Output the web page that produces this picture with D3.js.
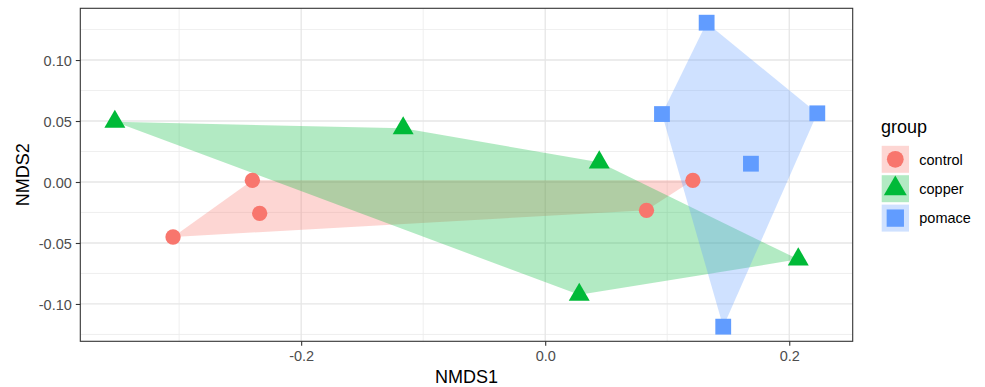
<!DOCTYPE html>
<html><head><meta charset="utf-8">
<script src="https://cdn.jsdelivr.net/npm/d3@7"></script>
<style>body{margin:0;background:#fff}text{font-family:"Liberation Sans",Arial,Helvetica,sans-serif}</style>
</head><body><svg id="c" width="985" height="387"></svg>
<script>
const groups = ["control", "copper", "pomace"];
const colors = ["#F8766D", "#00BA38", "#619CFF"];
const controlX = [-0.240, -0.234, -0.305, 0.083, 0.121];
const controlY = [0.0014, -0.0257, -0.0451, -0.0232, 0.0014];
const copperX = [-0.3527, -0.1164, 0.0443, 0.0279, 0.2074];
const copperY = [0.0494, 0.0440, 0.0161, -0.0925, -0.0634];
const pomaceX = [0.1323, 0.0957, 0.2230, 0.1686, 0.1459];
const pomaceY = [0.1306, 0.0557, 0.0563, 0.0150, -0.1186];
const xTicks = [-0.2, 0.0, 0.2];
const yTicks = [-0.10, -0.05, 0.00, 0.05, 0.10];
const xMinor = [-0.3, -0.1, 0.1];
const yMinor = [-0.125, -0.075, -0.025, 0.025, 0.075, 0.125];

const seriesX = [controlX, copperX, pomaceX];
const seriesY = [controlY, copperY, pomaceY];
const symbols = [d3.symbolCircle, d3.symbolTriangle, d3.symbolSquare];
const symSizes = [184, 190, 250];

const svg = d3.select("#c");
const L = 80.3, R = 852.7, T = 8.3, B = 341.3;
const x = d3.scaleLinear().domain([-0.381, 0.252]).range([L, R]);
const y = d3.scaleLinear().domain([-0.1306, 0.1424]).range([B, T]);

// grid
const g = svg.append("g");
g.selectAll(".xm").data(xMinor).join("line").attr("x1", d => x(d)).attr("x2", d => x(d)).attr("y1", T).attr("y2", B).attr("stroke", "#EBEBEB").attr("stroke-width", 0.8);
g.selectAll(".ym").data(yMinor).join("line").attr("y1", d => y(d)).attr("y2", d => y(d)).attr("x1", L).attr("x2", R).attr("stroke", "#EBEBEB").attr("stroke-width", 0.8);
g.selectAll(".xM").data(xTicks).join("line").attr("x1", d => x(d)).attr("x2", d => x(d)).attr("y1", T).attr("y2", B).attr("stroke", "#E6E6E6").attr("stroke-width", 1.3);
g.selectAll(".yM").data(yTicks).join("line").attr("y1", d => y(d)).attr("y2", d => y(d)).attr("x1", L).attr("x2", R).attr("stroke", "#E6E6E6").attr("stroke-width", 1.3);

// hulls
groups.forEach((grp, i) => {
  const pts = seriesX[i].map((v, j) => [x(v), y(seriesY[i][j])]);
  const hull = d3.polygonHull(pts);
  svg.append("path").attr("d", "M" + hull.join("L") + "Z").attr("fill", colors[i]).attr("fill-opacity", 0.3).attr("stroke", "none");
});
// points
groups.forEach((grp, i) => {
  svg.append("g").selectAll("path").data(seriesX[i].map((v, j) => [v, seriesY[i][j]])).join("path")
    .attr("transform", d => `translate(${x(d[0])},${y(d[1])})`)
    .attr("d", d3.symbol(symbols[i], symSizes[i])())
    .attr("fill", colors[i]);
});

// border
svg.append("rect").attr("x", L).attr("y", T).attr("width", R - L).attr("height", B - T).attr("fill", "none").attr("stroke", "#333333").attr("stroke-width", 1.1);

// axes
const hy = f => d => f(d).replace("\u2212", "-");
const xAxis = svg.append("g").attr("transform", `translate(0,${B})`).call(d3.axisBottom(x).tickValues(xTicks).tickFormat(hy(d3.format(".1f"))).tickSize(4.5).tickPadding(5));
const yAxis = svg.append("g").attr("transform", `translate(${L},0)`).call(d3.axisLeft(y).tickValues(yTicks).tickFormat(hy(d3.format(".2f"))).tickSize(4.5).tickPadding(4));
[xAxis, yAxis].forEach(a => {
  a.select(".domain").remove();
  a.selectAll(".tick line").attr("stroke", "#333333").attr("stroke-width", 1.1);
  a.selectAll(".tick text").attr("fill", "#4D4D4D").style("font-size", "14.5px").style("font-family", '"Liberation Sans",Arial,sans-serif');
});
yAxis.selectAll(".tick text").attr("dy", "0.35em");

svg.append("text").attr("x", (L + R) / 2).attr("y", 383).attr("text-anchor", "middle").style("font-size", "18px").attr("fill", "#000").text("NMDS1");
svg.append("text").attr("transform", `translate(29,${(T + B) / 2}) rotate(-90)`).attr("text-anchor", "middle").style("font-size", "18px").attr("fill", "#000").text("NMDS2");

// legend
const lg = svg.append("g");
lg.append("text").attr("x", 881).attr("y", 133).style("font-size", "18px").attr("fill", "#000").text("group");
groups.forEach((grp, i) => {
  const cy = 159.3 + i * 29.4;
  lg.append("rect").attr("x", 881.7).attr("y", cy - 13.5).attr("width", 27.3).attr("height", 27).attr("fill", colors[i]).attr("fill-opacity", 0.3);
  lg.append("path").attr("transform", `translate(895.3,${cy})`).attr("d", d3.symbol(symbols[i], symSizes[i] * 1.2)()).attr("fill", colors[i]);
  lg.append("text").attr("x", 919.3).attr("y", cy + 5.2).style("font-size", "14.5px").attr("fill", "#000").text(grp);
});
</script></body></html>
